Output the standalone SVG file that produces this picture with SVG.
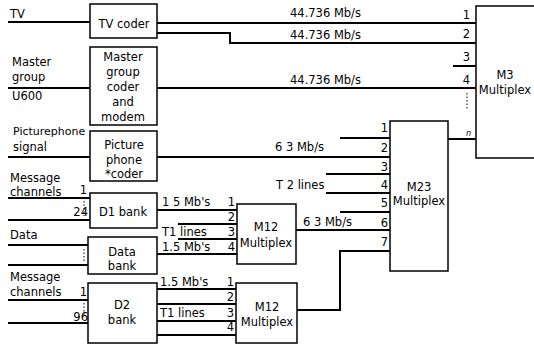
<svg xmlns="http://www.w3.org/2000/svg" width="534" height="346" viewBox="0 0 534 346">
<style>
text{font-family:"DejaVu Sans","Liberation Sans",sans-serif;font-size:11.5px;fill:#000}
.c{text-anchor:middle}
.r{text-anchor:end}
.s{font-size:11px}
.box{fill:#fff;stroke:#000;stroke-width:1.5}
.w{fill:none;stroke:#000;stroke-width:2}
.d{fill:none;stroke:#000;stroke-width:1;stroke-dasharray:1.5 2}
</style>
<rect width="534" height="346" fill="#fff"/>
<g id="connectors">
<path class="w" d="M8 22H90M8 88H90M8 157H90M8 198H90M8 220H90M8 245H88M8 265H88M8 300H88M8 323H88"/>
<path class="w" d="M157 23H476M157 33H230V43H476M453 66H476M157 88H476M448 139H476"/>
<path class="w" d="M340 138H390M157 157H390M326 174H390M326 193H390M340 212H390M296 230H390M297 310H340V251H390"/>
<path class="w" d="M157 210H237M178 224H237M178 239H237M157 254H237"/>
<path class="w" d="M157 289H236M157 304H236M157 321H236M157 335H236"/>
<path class="d" d="M84 201V216M84 249V262M84 303V315M467 93V110"/>
</g>
<g id="tv-coder"><rect class="box" x="90" y="4" width="67" height="34"/><text class="c" x="124" y="28">TV coder</text></g>
<g id="master-group-coder"><rect class="box" x="90" y="47" width="67" height="78"/>
<text class="c" x="123" y="61">Master</text><text class="c" x="123" y="76">group</text><text class="c" x="123" y="91">coder</text><text class="c" x="123" y="106">and</text><text class="c" x="123" y="121">modem</text></g>
<g id="picturephone-coder"><rect class="box" x="90" y="131" width="67" height="50"/>
<text class="c" x="124" y="149">Picture</text><text class="c" x="124" y="164">phone</text><text class="c" x="124" y="178">*coder</text></g>
<g id="d1-bank"><rect class="box" x="90" y="193" width="67" height="35"/><text class="c" x="123" y="216">D1 bank</text></g>
<g id="data-bank"><rect class="box" x="88" y="237" width="69" height="37"/><text class="c" x="122" y="256">Data</text><text class="c" x="122" y="270">bank</text></g>
<g id="d2-bank"><rect class="box" x="88" y="283" width="69" height="60"/><text class="c" x="122" y="309">D2</text><text class="c" x="122" y="324">bank</text></g>
<g id="m12-upper"><rect class="box" x="237" y="204" width="59" height="60"/><text class="c" x="266" y="231">M12</text><text class="c" x="266" y="247">Multiplex</text></g>
<g id="m12-lower"><rect class="box" x="236" y="283" width="61" height="60"/><text class="c" x="267" y="311">M12</text><text class="c" x="267" y="326">Multiplex</text></g>
<g id="m23"><rect class="box" x="390" y="121" width="58" height="150"/><text class="c" x="419" y="191">M23</text><text class="c" x="419" y="205">Multiplex</text></g>
<g id="m3"><rect class="box" x="476" y="6" width="80" height="152"/><text class="c" x="505" y="79">M3</text><text class="c" x="505" y="94">Multiplex</text></g>
<g id="labels">
<text x="10" y="18">TV</text>
<text x="12" y="66">Master</text><text x="12" y="81">group</text><text x="12" y="100">U600</text>
<text class="s" x="13" y="135">Picturephone</text><text x="13" y="151">signal</text>
<text x="10" y="182">Message</text><text x="10" y="196">channels</text><text class="r" x="87" y="194">1</text><text class="r" x="88" y="216">24</text>
<text x="10" y="239">Data</text>
<text x="10" y="281">Message</text><text x="10" y="296">channels</text><text class="r" x="87" y="296">1</text><text class="r" x="88" y="321">96</text>
<text x="290" y="17">44.736 Mb/s</text><text x="290" y="39">44.736 Mb/s</text><text x="290" y="84">44.736 Mb/s</text>
<text class="r" x="470" y="19">1</text><text class="r" x="470" y="38">2</text><text class="r" x="470" y="61">3</text><text class="r" x="470" y="84">4</text>
<text x="466" y="136" style="font-size:8px;font-style:italic">n</text>
<text x="275" y="151">6 3 Mb/s</text><text x="276" y="189">T 2 lines</text><text x="303" y="226">6 3 Mb/s</text>
<text class="r" x="388" y="132">1</text><text class="r" x="388" y="152">2</text><text class="r" x="388" y="171">3</text><text class="r" x="388" y="189">4</text><text class="r" x="388" y="207">5</text><text class="r" x="388" y="227">6</text><text class="r" x="388" y="246">7</text>
<text x="162" y="206">1 5 Mb's</text><text x="162" y="236">T1 lines</text><text x="162" y="251">1.5 Mb's</text>
<text class="r" x="235" y="206">1</text><text class="r" x="235" y="221">2</text><text class="r" x="235" y="236">3</text><text class="r" x="235" y="251">4</text>
<text x="160" y="286">1.5 Mb's</text><text x="160" y="317">T1 lines</text>
<text class="r" x="234" y="286">1</text><text class="r" x="234" y="301">2</text><text class="r" x="234" y="317">3</text><text class="r" x="234" y="331">4</text>
</g>
</svg>
